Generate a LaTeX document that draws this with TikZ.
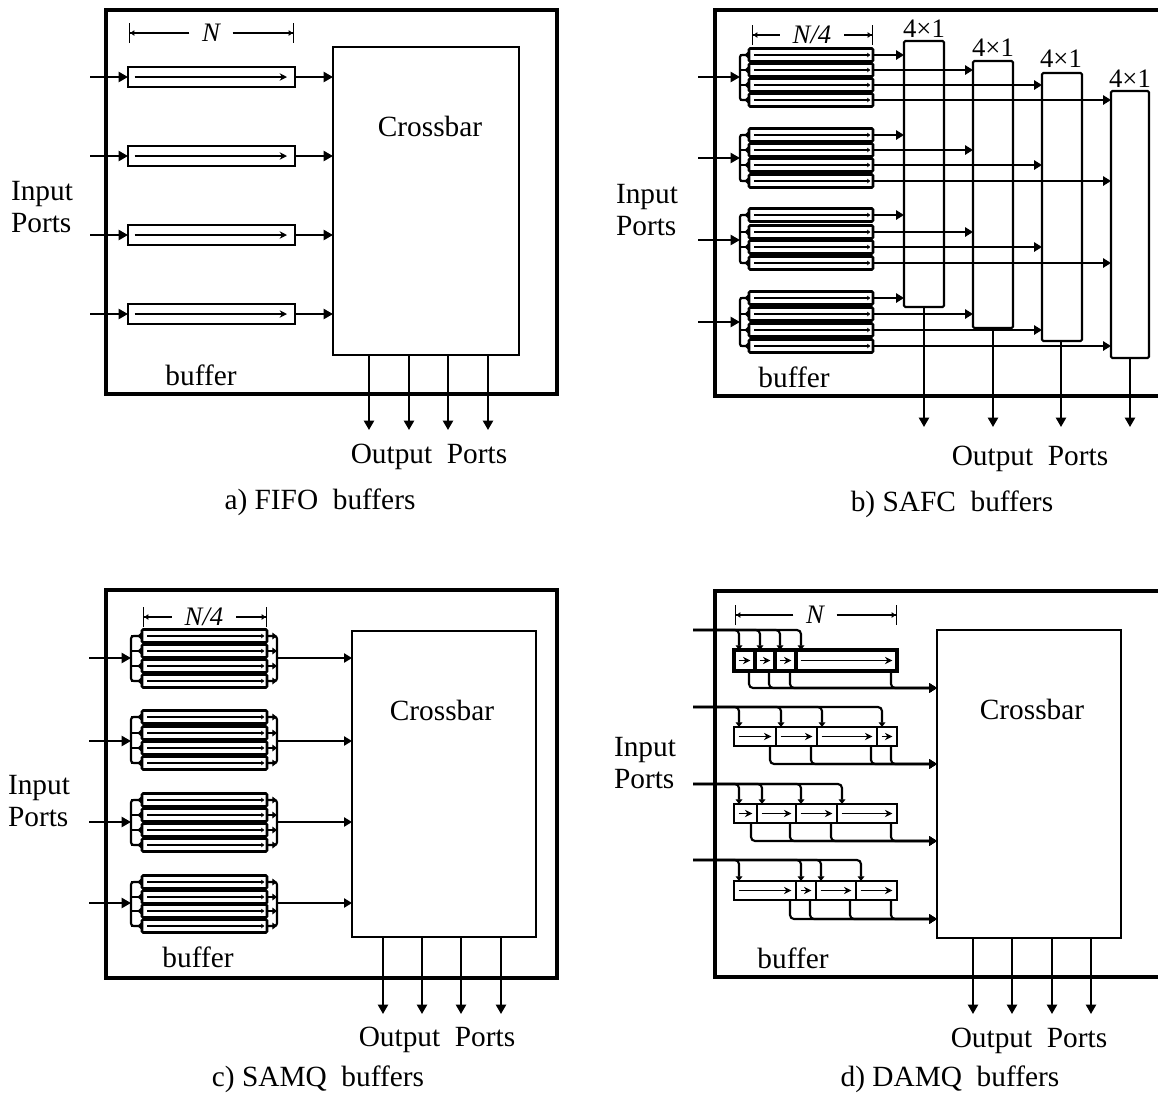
\documentclass[tikz,border=0pt]{standalone}
\usepackage{fontspec}
\setmainfont{Liberation Serif}
\usetikzlibrary{arrows.meta}
\tikzset{
  frame/.style={line width=2.8pt,line join=miter},
  boxs/.style={draw,rectangle,inner sep=0pt,outer sep=0pt,line width=1.6pt,fill=none},
  qbox/.style={boxs,line width=1.9pt,rounded corners=0.8pt},
  segbox/.style={boxs,line width=1.5pt},
  segthick/.style={boxs,line width=2.3pt},
  conn/.style={line width=1.6pt},
  thinc/.style={line width=1.2pt},
  bigtip/.style={-{Triangle[length=7pt,width=7.5pt]}},
  midtip/.style={-{Triangle[length=6pt,width=7pt]}},
  lefttip/.style={-{Triangle[length=3.5pt,width=6pt,reversed]}},
  smalltip/.style={-{Triangle[length=3.5pt,width=5pt]}},
  innerline/.style={line width=1.1pt,-{Stealth[length=5.5pt,width=5.5pt]}},
  qinner/.style={line width=1.3pt,-{Stealth[length=2.5pt,width=3.5pt]}},
  dimline/.style={line width=1pt,-{Triangle[length=3pt,width=4pt,sep=0pt]Bar[width=15pt,line width=1pt]}},
  txt/.style={inner sep=0pt,outer sep=0pt,font=\fontsize{22}{24.5}\selectfont},
  muxt/.style={inner sep=0pt,font=\fontsize{20}{22}\selectfont},
  dimt/.style={inner xsep=9.4pt,inner ysep=0pt,font=\fontsize{20}{22}\selectfont\itshape},
  x=0.75pt,y=-0.75pt
}
\newcommand{\bx}[6][]{%
  \pgfmathsetmacro\bw{((#5)-(#3))*.75}\pgfmathsetmacro\bh{((#6)-(#4))*.75}%
  \node[boxs,#1,minimum width=\bw pt,minimum height=\bh pt,anchor=north west] (#2) at (#3,#4) {};}
% single narrow queue
\newcommand{\qbuf}[4]{%
  \bx[qbox]{#1}{#2}{#4-6.5}{#3}{#4+6.5}%
  \draw[qinner] ([xshift=4pt]#1.west) -- ([xshift=-2pt]#1.east);}
% dimension bar
\newcommand{\dimbar}[6]{% id, text, xl, xr, xtext, y
  \node[dimt] (#1) at (#5,#6) {#2};
  \coordinate (#1l) at (#3,#6); \coordinate (#1r) at (#4,#6);
  \draw[dimline] (#1.west |- #1l) -- (#1l);
  \draw[dimline] (#1.east |- #1r) -- (#1r);}
% DAMQ row
\newcommand{\damq}[7]{% id, boxtop, boxbot, ytop, ybot, segments, style
  \coordinate (#1i) at (693,#4);
  \coordinate (#1o) at (crossd.west |- 800,#5);
  \foreach \xa/\xb [count=\i] in {#6}{
    \bx[#7]{#1s\i}{\xa}{#2}{\xb}{#3}
    \draw[innerline,line width=1.2pt] ([xshift=3.5pt]#1s\i.west) -- ([xshift=-3.5pt]#1s\i.east);
    \coordinate (#1t\i) at ([xshift=3.75pt]#1s\i.north west);
    \coordinate (#1b\i) at ([xshift=-4.5pt]#1s\i.south east);
    \draw[conn,rounded corners=3pt,smalltip] (#1i) -- (#1t\i |- #1i) -- (#1t\i);
    \draw[conn,rounded corners=3pt,midtip] (#1b\i) -- (#1b\i |- #1o) -- (#1o);
  }}
\begin{document}
\begin{tikzpicture}
\useasboundingbox[fill=white] (0,0) rectangle (1158,1093);

%% ---------- panel a ----------
\bx[line width=2.8pt]{framea}{106}{10}{557}{394}
\bx[line width=1.8pt]{crossa}{333}{47}{519}{355}
\dimbar{dima}{N}{129}{294}{211}{33}
\foreach \yc [count=\i] in {77,156,235,314}{
  \bx{a\i}{128}{\yc-10}{295}{\yc+10}
  \draw[innerline] ([xshift=5pt]a\i.west) -- ([xshift=-6pt]a\i.east);
  \coordinate (ai\i) at (90,\yc);
  \draw[conn,bigtip] (ai\i) -- (a\i.west);
  \draw[conn,bigtip] (a\i.east) -- (a\i.east -| crossa.west);
}
\foreach \ox [count=\i] in {369,409,448,488}{
  \coordinate (ao\i) at (\ox,430);
  \draw[conn,bigtip] (ao\i |- crossa.south) -- (ao\i);
}
\node[txt] (alab) at (430,126) {Crossbar};
\node[txt,align=left] (ainp) at (42,207) {Input\\Ports};
\node[txt] (abuf) at (201,375) {buffer};
\node[txt] (aout) at (429,457) {Output\ \ Ports};
\node[txt] (acap) at (320,502) {a) FIFO\ \ buffers};

%% ---------- panel b ----------
\coordinate (fb1) at (1158,10); \coordinate (fb2) at (715,10);
\coordinate (fb3) at (715,396); \coordinate (fb4) at (1158,396);
\draw[frame] (fb1) -- (fb2) -- (fb3) -- (fb4);
\dimbar{dimb}{N/4}{752}{873}{812}{35}
\foreach \xa/\xb/\yt/\yb/\ox/\yl [count=\i] in {904/944/41/307/924/29,973/1013/61/328/993/48,1042/1082/73/341/1061/59,1111/1149/91/358/1130/79}{
  \bx[line width=1.6pt,rounded corners=1pt]{m\i}{\xa}{\yt}{\xb}{\yb}
  \node[muxt] (ml\i) at (\ox,\yl) {4×1};
  \coordinate (mo\i) at (\ox,427);
  \draw[conn,bigtip] (mo\i |- m\i.south) -- (mo\i);
}
\foreach \g/\ra/\rb/\rc/\rd/\yin in {1/55/70/85/100/77,2/135/150/165/181/158,3/215/232/247/263/240,4/298/314/330/346/322}{
  \coordinate (bi\g) at (698,\yin);
  \coordinate (bb\g) at (740,\yin);
  \draw[conn,bigtip] (bi\g) -- (bb\g);
  \foreach \yc [count=\i] in {\ra,\rb,\rc,\rd}{
    \qbuf{b\g r\i}{749}{873}{\yc}
    \draw[conn,lefttip] (b\g r\i.west -| bb\g) -- (b\g r\i.west);
    \draw[conn,midtip] (b\g r\i.east) -- (b\g r\i.east -| m\i.west);
  }
  \draw[conn,rounded corners=1.5pt] (b\g r1.west) -- (b\g r1.west -| bb\g) -- (b\g r4.west -| bb\g) -- (b\g r4.west);
}
\node[txt,align=left] (binp) at (647,210) {Input\\Ports};
\node[txt] (bbuf) at (794,377) {buffer};
\node[txt] (bout) at (1030,459) {Output\ \ Ports};
\node[txt] (bcap) at (952,504) {b) SAFC\ \ buffers};

%% ---------- panel c ----------
\bx[line width=2.8pt]{framec}{106}{590}{557}{978}
\bx[line width=1.8pt]{crossc}{352}{631}{536}{937}
\dimbar{dimc}{N/4}{143}{267}{204}{617}
\foreach \g/\ra/\rb/\rc/\rd/\yin in {1/636/651/666/681/658,2/717/733/748/763/741,3/800/815/830/845/822,4/882/897/911/926/903}{
  \coordinate (ci\g) at (89,\yin);
  \coordinate (cl\g) at (131,\yin);
  \coordinate (cr\g) at (277,\yin);
  \draw[conn,bigtip] (ci\g) -- (cl\g);
  \draw[thinc,midtip] (cr\g) -- (cr\g -| crossc.west);
  \foreach \yc [count=\i] in {\ra,\rb,\rc,\rd}{
    \qbuf{c\g r\i}{142}{267}{\yc}
    \draw[conn,lefttip] (c\g r\i.west -| cl\g) -- (c\g r\i.west);
    \draw[conn,smalltip] (c\g r\i.east) -- (c\g r\i.east -| cr\g);
  }
  \draw[conn,rounded corners=2pt] (c\g r1.west) -- (c\g r1.west -| cl\g) -- (c\g r4.west -| cl\g) -- (c\g r4.west);
  \draw[conn,rounded corners=2pt] (c\g r1.east) -- (c\g r1.east -| cr\g) -- (c\g r4.east -| cr\g) -- (c\g r4.east);
}
\foreach \ox [count=\i] in {383,422,461,501}{
  \coordinate (co\i) at (\ox,1014);
  \draw[conn,bigtip] (co\i |- crossc.south) -- (co\i);
}
\node[txt] (clab) at (442,710) {Crossbar};
\node[txt,align=left] (cinp) at (39,801) {Input\\Ports};
\node[txt] (cbuf) at (198,957) {buffer};
\node[txt] (cout) at (437,1040) {Output\ \ Ports};
\node[txt] (ccap) at (318,1079) {c) SAMQ\ \ buffers};

%% ---------- panel d ----------
\coordinate (fd1) at (1158,591); \coordinate (fd2) at (715,591);
\coordinate (fd3) at (715,977); \coordinate (fd4) at (1158,977);
\draw[frame] (fd1) -- (fd2) -- (fd3) -- (fd4);
\bx[line width=1.8pt]{crossd}{937}{630}{1121}{938}
\dimbar{dimd}{N}{735}{897}{815}{615}
\damq{dr1}{650}{671}{630}{688}{734/755,755/775,775/796,796/897}{segthick}
\damq{dr2}{727}{746}{707}{764}{734/776,776/817,817/877,877/897}{segbox}
\damq{dr3}{804}{823}{784}{841}{734/757,757/796,796/837,837/897}{segbox}
\damq{dr4}{881}{900}{860}{919}{734/796,796/816,816/856,856/897}{segbox}
\foreach \ox [count=\i] in {973,1012,1052,1091}{
  \coordinate (do\i) at (\ox,1014);
  \draw[conn,bigtip] (do\i |- crossd.south) -- (do\i);
}
\node[txt] (dlab) at (1032,709) {Crossbar};
\node[txt,align=left] (dinp) at (645,763) {Input\\Ports};
\node[txt] (dbuf) at (793,958) {buffer};
\node[txt] (dout) at (1029,1041) {Output\ \ Ports};
\node[txt] (dcap) at (950,1079) {d) DAMQ\ \ buffers};
\end{tikzpicture}
\end{document}
